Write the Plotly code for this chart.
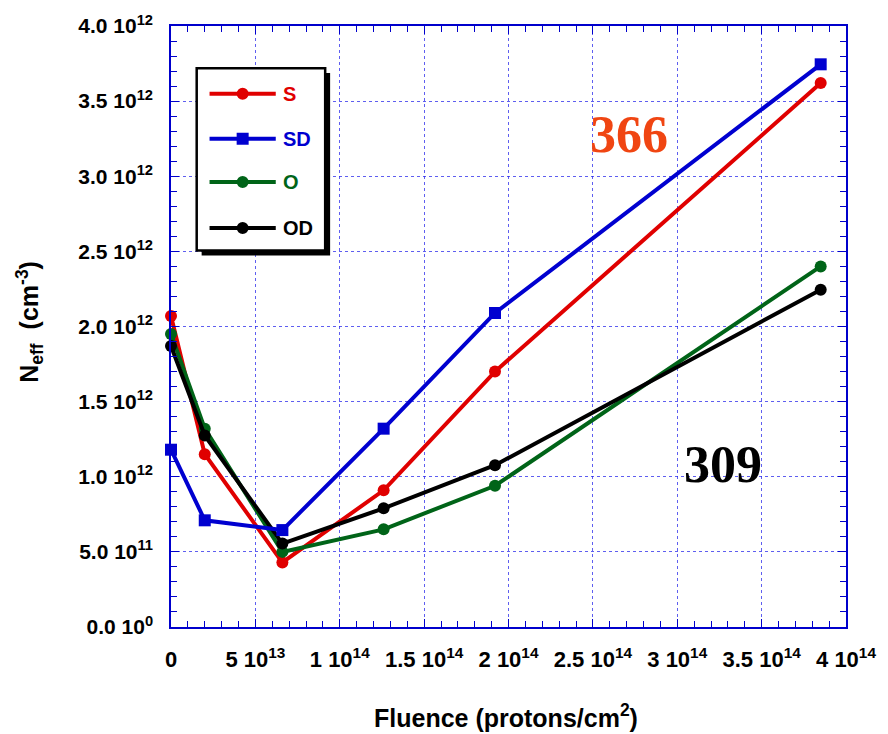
import plotly.graph_objects as go

# ---- data ----
fluence = [0, 2.0e13, 6.6e13, 1.26e14, 1.92e14, 3.85e14]
neff_S = [2.07e12, 1.15e12, 0.43e12, 0.91e12, 1.70e12, 3.62e12]
neff_SD = [1.18e12, 0.71e12, 0.645e12, 1.32e12, 2.09e12, 3.745e12]
neff_O = [1.95e12, 1.32e12, 0.50e12, 0.65e12, 0.94e12, 2.40e12]
neff_OD = [1.87e12, 1.275e12, 0.555e12, 0.79e12, 1.077e12, 2.245e12]
series_names = ["S", "SD", "O", "OD"]

x_tickvals = [0, 5e13, 1e14, 1.5e14, 2e14, 2.5e14, 3e14, 3.5e14, 4e14]
x_ticktext = ["0", "5 10<sup>13</sup>", "1 10<sup>14</sup>", "1.5 10<sup>14</sup>",
              "2 10<sup>14</sup>", "2.5 10<sup>14</sup>", "3 10<sup>14</sup>",
              "3.5 10<sup>14</sup>", "4 10<sup>14</sup>"]
y_tickvals = [0, 5e11, 1e12, 1.5e12, 2e12, 2.5e12, 3e12, 3.5e12, 4e12]
y_ticktext = ["0.0 10<sup>0</sup>", "5.0 10<sup>11</sup>", "1.0 10<sup>12</sup>",
              "1.5 10<sup>12</sup>", "2.0 10<sup>12</sup>", "2.5 10<sup>12</sup>",
              "3.0 10<sup>12</sup>", "3.5 10<sup>12</sup>", "4.0 10<sup>12</sup>"]

# ---- styling ----
W, H = 888, 734
ML, MR, MT, MB = 171, 34, 14, 107
PW, PH = W - ML - MR, H - MT - MB
colors = {"S": "#e00000", "SD": "#0000d0", "O": "#006418", "OD": "#000000"}
symbols = {"S": "circle", "SD": "square", "O": "circle", "OD": "circle"}
FONT = "Liberation Sans, Arial, sans-serif"
AX = "#0000cc"
GRID = "rgba(40,40,235,0.75)"


def px_x(p):
    return (p - ML) / PW


def px_y(p):
    return (H - MB - p) / PH


fig = go.Figure()
data = {"S": neff_S, "SD": neff_SD, "O": neff_O, "OD": neff_OD}
for name in ["S", "O", "OD", "SD"]:
    fig.add_trace(go.Scatter(
        x=fluence, y=data[name], mode="lines+markers", name=name,
        line=dict(color=colors[name], width=4),
        marker=dict(color=colors[name], size=12, symbol=symbols[name]),
        cliponaxis=False, showlegend=False))

axis_common = dict(
    showline=True, linecolor=AX, linewidth=1.5, mirror="allticks",
    ticks="inside", ticklen=8, tickcolor=AX, tickwidth=1,
    showgrid=True, gridcolor=GRID, griddash="3px,3px", gridwidth=1,
    zeroline=False, ticklabeloverflow="allow",
)

fig.update_xaxes(range=[0, 4e14], tickmode="array", tickvals=x_tickvals,
                 ticktext=x_ticktext, ticklabelstandoff=12,
                 tickfont=dict(family=FONT, size=22, color="black", weight="bold"),
                 minor=dict(dtick=1e13, tick0=0, ticks="inside", ticklen=6,
                            tickcolor=AX, showgrid=False),
                 **axis_common)
fig.update_yaxes(range=[0, 4e12], tickmode="array", tickvals=y_tickvals,
                 ticktext=y_ticktext, ticklabelstandoff=12,
                 tickfont=dict(family=FONT, size=21, color="black", weight="bold"),
                 minor=dict(dtick=1e11, tick0=0, ticks="inside", ticklen=6,
                            tickcolor=AX, showgrid=False),
                 **axis_common)

# ---- manual legend ----
shapes = []
bx0, bx1, by0, by1 = 197, 327, 57, 243
shapes.append(dict(type="rect", xref="paper", yref="paper",
                   x0=px_x(bx0 + 5), x1=px_x(bx1 + 5), y0=px_y(by1 + 5), y1=px_y(by0 + 5),
                   fillcolor="black", line=dict(width=0), layer="above"))
shapes.append(dict(type="rect", xref="paper", yref="paper",
                   x0=px_x(bx0), x1=px_x(bx1), y0=px_y(by1), y1=px_y(by0),
                   fillcolor="white", line=dict(color="black", width=2.5), layer="above"))
annotations = []
leg_y = [83, 129, 173, 220]
for name, yy in zip(series_names, leg_y):
    shapes.append(dict(type="line", xref="paper", yref="paper",
                       x0=px_x(210), x1=px_x(277), y0=px_y(yy), y1=px_y(yy),
                       line=dict(color=colors[name], width=4), layer="above"))
    shapes.append(dict(type="circle" if symbols[name] == "circle" else "rect",
                       xref="paper", yref="paper", xsizemode="pixel", ysizemode="pixel",
                       xanchor=px_x(243.5), yanchor=px_y(yy),
                       x0=-6, x1=6, y0=-6, y1=6,
                       fillcolor=colors[name], line=dict(width=0), layer="above"))
    annotations.append(dict(xref="paper", yref="paper", x=px_x(282), y=px_y(yy),
                            xanchor="left", yanchor="middle", showarrow=False,
                            text=name, font=dict(family=FONT, size=20, color=colors[name],
                                                 weight="bold")))

# axis titles and labels
annotations.append(dict(xref="paper", yref="paper", x=px_x(510), y=px_y(718),
                        xanchor="center", yanchor="middle", showarrow=False,
                        text="Fluence (protons/cm<sup>2</sup>)",
                        font=dict(family=FONT, size=25, color="black", weight="bold")))
annotations.append(dict(xref="paper", yref="paper", x=px_x(28), y=px_y(316),
                        xanchor="center", yanchor="middle", showarrow=False, textangle=-90,
                        text="N<sub>eff</sub>  (cm<sup>-3</sup>)",
                        font=dict(family=FONT, size=25, color="black", weight="bold")))
annotations.append(dict(xref="paper", yref="paper", x=px_x(634), y=px_y(125),
                        xanchor="center", yanchor="middle", showarrow=False,
                        text="366",
                        font=dict(family="Liberation Serif, Times New Roman, serif", size=52,
                                  color="#f04512", weight="bold")))
annotations.append(dict(xref="paper", yref="paper", x=px_x(730), y=px_y(461),
                        xanchor="center", yanchor="middle", showarrow=False,
                        text="309",
                        font=dict(family="Liberation Serif, Times New Roman, serif", size=52,
                                  color="black", weight="bold")))

fig.update_layout(width=W, height=H, margin=dict(l=ML, r=MR, t=MT, b=MB),
                  plot_bgcolor="white", paper_bgcolor="white",
                  shapes=shapes, annotations=annotations, showlegend=False)

fig.write_html("out.html")
